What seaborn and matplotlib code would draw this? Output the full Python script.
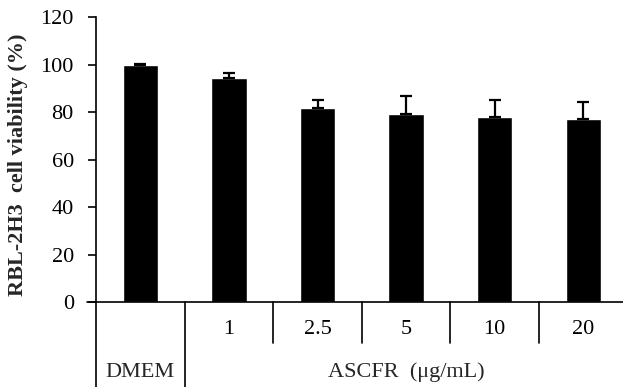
import numpy as np
import pandas as pd
import matplotlib
matplotlib.use('Agg')
import matplotlib.pyplot as plt
import seaborn as sns

groups = ['DMEM', '1', '2.5', '5', '10', '20']
viability = [99.8, 94.4, 81.5, 79.3, 77.8, 77.1]
sd = [0.5, 2.2, 3.7, 7.3, 7.4, 7.2]

df = pd.DataFrame({'group': groups, 'viability': viability})

sns.set_theme(style='ticks')
plt.rcParams['font.family'] = ['Liberation Serif', 'DejaVu Serif']

fig = plt.figure(figsize=(6.23, 3.87), dpi=100)
ax = fig.add_axes([0.1541, 0.2196, 0.8533, 0.7364])

sns.barplot(data=df, x='group', y='viability', color='black', width=0.4,
            saturation=1, ax=ax, errorbar=None)
xs = ax.get_xticks()
ax.errorbar(xs, viability, yerr=[np.zeros(len(sd)), sd], fmt='none',
            ecolor='black', elinewidth=1.6, capsize=4.5, capthick=1.6)

ax.set_xlim(-0.5, 5.5)
ax.set_ylim(0, 120)
ax.set_yticks(range(0, 121, 20))
ax.tick_params(axis='y', labelsize=16, length=6, width=1.2, direction='out',
               colors='black', pad=10)
ax.set_xticks(xs)
ax.set_xticklabels([''] + groups[1:], fontsize=16)
ax.tick_params(axis='x', length=0, pad=13, colors='black')
for s in ['top', 'right']:
    ax.spines[s].set_visible(False)
for s in ['left', 'bottom']:
    ax.spines[s].set_linewidth(1.2)
    ax.spines[s].set_color('black')
ax.set_xlabel('')
ax.set_ylabel('')
fig.text(18 / 623, 1 - 165 / 387, 'RBL-2H3  cell viability (%)', rotation=90,
         ha='center', va='center', fontsize=16, fontweight='bold')

# table-like separators under the axis
tr = ax.get_xaxis_transform()
ax.plot([-0.5, -0.5], [0, -0.32], transform=tr, color='black', lw=1.2, clip_on=False)
ax.plot([0.5, 0.5], [0, -0.32], transform=tr, color='black', lw=1.2, clip_on=False)
for b in np.arange(1.5, 5.0, 1.0):
    ax.plot([b, b], [0, -0.144], transform=tr, color='black', lw=1.2, clip_on=False)
ax.plot([-0.6, -0.5], [0, 0], transform=tr, color='black', lw=1.2, clip_on=False)

ax.text(0, -0.246, 'DMEM', transform=tr, ha='center', va='center', fontsize=16)
ax.text(3.0, -0.246, 'ASCFR  (\u03bcg/mL)', transform=tr, ha='center', va='center',
        fontsize=16)

fig.savefig('out.png', dpi=100)
